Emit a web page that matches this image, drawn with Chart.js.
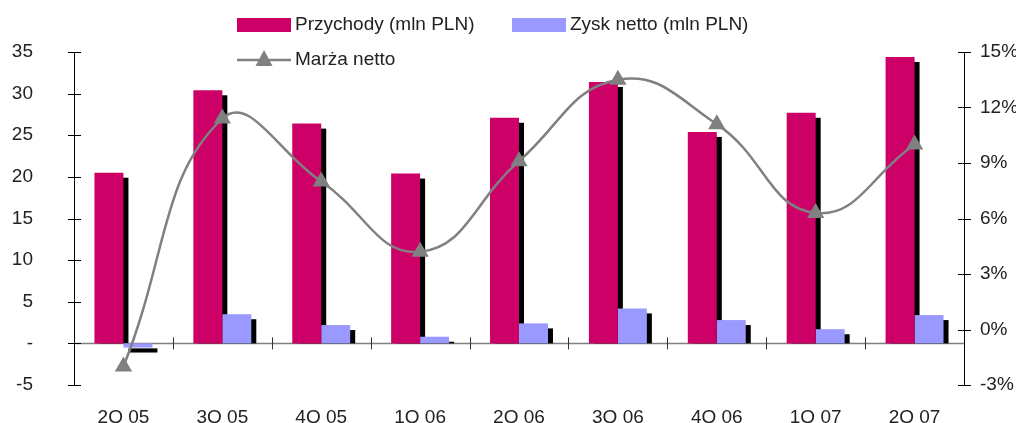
<!DOCTYPE html>
<html>
<head>
<meta charset="utf-8">
<script src="https://cdn.jsdelivr.net/npm/chart.js@4.4.1/dist/chart.umd.min.js"></script>
<style>
    html, body { margin: 0; padding: 0; background: #fff; }
    #wrap { position: relative; width: 1016px; height: 423px; overflow: hidden; }
    #wrap canvas { display: block; }
    .lg { position: absolute; font: 19px "Liberation Sans", Arial, sans-serif; color: #222; line-height: 22px; white-space: nowrap; }
    .box { position: absolute; width: 54px; height: 14px; }
</style>
</head>
<body>
<div id="wrap">
    <canvas id="marzaChart" width="1016" height="423"></canvas>
    <div class="box" style="left:237px; top:18px; background:#CC0066;"></div>
    <div class="lg" style="left:295px; top:13px;">Przychody (mln PLN)</div>
    <div class="box" style="left:512px; top:18px; background:#9999FF;"></div>
    <div class="lg" style="left:570px; top:13px;">Zysk netto (mln PLN)</div>
    <svg style="position:absolute; left:237px; top:48px;" width="54" height="20">
        <line x1="0" y1="12" x2="54" y2="12" stroke="#808080" stroke-width="2.5"/>
        <polygon points="27,2 35.5,18 18.5,18" fill="#808080"/>
    </svg>
    <div class="lg" style="left:295px; top:48px;">Marża netto</div>
</div>
<script>
// Dane kwartalne
const labels = ['2Q 05', '3Q 05', '4Q 05', '1Q 06', '2Q 06', '3Q 06', '4Q 06', '1Q 07', '2Q 07'];
const przychody = [20.5, 30.4, 26.4, 20.4, 27.1, 31.4, 25.4, 27.7, 34.4];
const zysk = [-0.5, 3.5, 2.2, 0.8, 2.4, 4.2, 2.8, 1.7, 3.4];
const marza = [-2.0, 11.4, 8.0, 4.2, 9.1, 13.5, 11.1, 6.3, 10.0];

const FONT = { family: '"Liberation Sans", Arial, sans-serif', size: 19 };
const TEXT = '#222';

// Zero line + bar drop shadows, drawn before datasets
const shadowPlugin = {
    id: 'shadowPlugin',
    beforeDatasetsDraw(chart) {
        const ctx = chart.ctx;
        const area = chart.chartArea;
        const y0 = chart.scales.y.getPixelForValue(0);
        ctx.save();
        ctx.strokeStyle = '#808080';
        ctx.lineWidth = 1.5;
        ctx.beginPath();
        ctx.moveTo(area.left, y0);
        ctx.lineTo(area.right, y0);
        ctx.stroke();

        ctx.fillStyle = '#000';
        chart.data.datasets.forEach((ds, i) => {
            const meta = chart.getDatasetMeta(i);
            if (meta.type !== 'bar') return;
            meta.data.forEach(el => {
                const p = el.getProps(['x', 'y', 'base', 'width'], true);
                const left = p.x - p.width / 2 + 5;
                if (p.y < p.base) {
                    ctx.fillRect(left, p.y + 5, p.width, p.base - p.y - 5);
                } else {
                    ctx.fillRect(left, p.base + 5, p.width, p.y - p.base);
                }
            });
        });
        ctx.restore();
    },
    afterDraw(chart) {
        // tick marks crossing the axes
        const ctx = chart.ctx;
        const { x, y, y1 } = chart.scales;
        ctx.save();
        ctx.strokeStyle = '#000';
        ctx.lineWidth = 1;
        ctx.beginPath();
        y.ticks.forEach(t => {
            const py = Math.round(y.getPixelForValue(t.value)) + 0.5;
            ctx.moveTo(y.right - 6, py);
            ctx.lineTo(y.right + 7, py);
        });
        y1.ticks.forEach(t => {
            const py = Math.round(y1.getPixelForValue(t.value)) + 0.5;
            ctx.moveTo(y1.left - 6, py);
            ctx.lineTo(y1.left + 7, py);
        });
        ctx.stroke();

        const y0 = y.getPixelForValue(0);
        ctx.strokeStyle = '#333';
        ctx.beginPath();
        for (let i = 1; i < labels.length; i++) {
            const px = Math.round((x.getPixelForValue(i - 1) + x.getPixelForValue(i)) / 2) + 0.5;
            ctx.moveTo(px, y0 - 6);
            ctx.lineTo(px, y0 + 6);
        }
        ctx.stroke();
        ctx.restore();
    }
};

new Chart(document.getElementById('marzaChart'), {
    type: 'bar',
    data: {
        labels: labels,
        datasets: [
            {
                label: 'Przychody (mln PLN)',
                data: przychody,
                backgroundColor: '#CC0066',
                borderWidth: 0,
                yAxisID: 'y',
                order: 1,
                barPercentage: 1,
                categoryPercentage: 0.586
            },
            {
                label: 'Zysk netto (mln PLN)',
                data: zysk,
                backgroundColor: '#9999FF',
                borderWidth: 0,
                yAxisID: 'y',
                order: 1,
                barPercentage: 1,
                categoryPercentage: 0.586
            },
            {
                type: 'line',
                label: 'Marża netto',
                data: marza,
                yAxisID: 'y1',
                order: 0,
                borderColor: '#808080',
                borderWidth: 2.5,
                tension: 0.45,
                fill: false,
                pointStyle: 'triangle',
                pointRadius: 10,
                pointBackgroundColor: '#808080',
                pointBorderWidth: 0
            }
        ]
    },
    options: {
        responsive: false,
        devicePixelRatio: 1,
        animation: false,
        layout: {
            padding: { top: 52, left: 0, right: 0, bottom: 0 }
        },
        plugins: {
            legend: { display: false },
            tooltip: { enabled: false }
        },
        scales: {
            x: {
                offset: true,
                grid: { display: false, drawTicks: false, tickLength: 0 },
                border: { display: false },
                ticks: { font: FONT, color: TEXT, padding: 21, maxRotation: 0 },
                afterFit: s => { s.height = 38; }
            },
            y: {
                position: 'left',
                min: -5,
                max: 35,
                // tickLength only pushes labels away from the axis (marks drawn by plugin)
                grid: { display: false, drawTicks: true, tickLength: 41 },
                border: { display: true, color: '#000', width: 1 },
                ticks: {
                    stepSize: 5,
                    font: FONT,
                    color: TEXT,
                    padding: 0,
                    callback: v => v === 0 ? '-' : v
                },
                afterFit: s => { s.width = 74; }
            },
            y1: {
                position: 'right',
                min: -3,
                max: 15,
                grid: { display: false, drawTicks: true, tickLength: 16 },
                border: { display: true, color: '#000', width: 1 },
                ticks: {
                    stepSize: 3,
                    font: FONT,
                    color: TEXT,
                    padding: 0,
                    callback: v => v + '%'
                },
                afterFit: s => { s.width = 52; }
            }
        }
    },
    plugins: [shadowPlugin]
});
</script>
</body>
</html>
